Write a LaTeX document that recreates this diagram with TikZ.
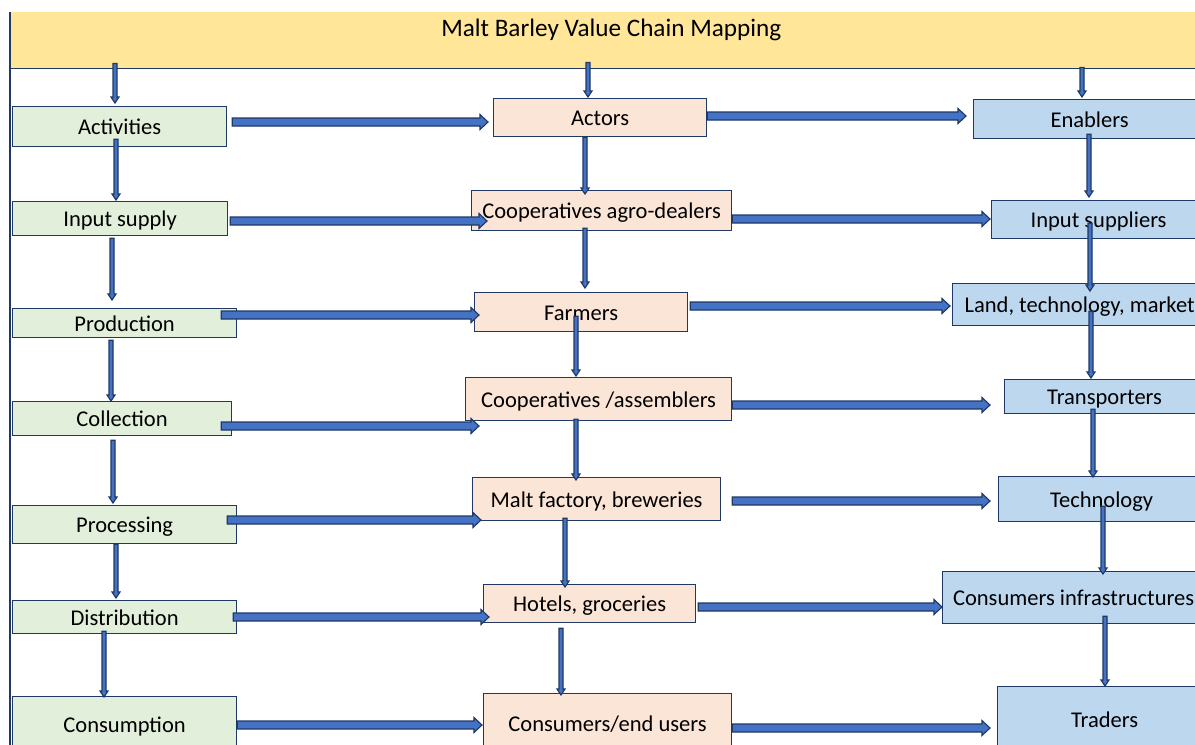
\documentclass[tikz,border=0pt]{standalone}
\usepackage{fontspec}
\setmainfont{Carlito}
\usetikzlibrary{calc}
\definecolor{titlefill}{HTML}{FFE699}
\definecolor{gfill}{HTML}{E2EFDA}
\definecolor{pfill}{HTML}{FBE5D6}
\definecolor{bfill}{HTML}{BDD7EE}
\definecolor{navy}{HTML}{1F3864}
\definecolor{arrfill}{HTML}{4472C4}
\tikzset{
  box/.style={draw=navy, line width=0.9pt, anchor=north west, inner sep=0pt,
    text height=12pt, text depth=0pt,
    font=\fontsize{16.9}{20}\selectfont},
  gbox/.style={box, fill=gfill},
  pbox/.style={box, fill=pfill},
  bbox/.style={box, fill=bfill},
  barrow/.style={draw=navy, fill=arrfill, line width=0.85pt, line join=miter},
  frameline/.style={draw=navy, line width=0.9pt}
}
\newcommand\bx[7]{\node[#2, minimum width={(#5-#3)*0.75pt}, minimum height={(#6-#4)*0.75pt}] (#1) at (#3,#4) {#7};}
\newcommand\harr[5]{\draw[barrow] let \p1=($(#1.east)+(#3,0)$), \p2=($(#2.west)+(#4,0)$), \p3=(0,#5) in
  (\x1,\y3+3pt) -- (\x2-6pt,\y3+3pt) -- (\x2-6pt,\y3+5.6pt) -- (\x2,\y3) -- (\x2-6pt,\y3-5.6pt) -- (\x2-6pt,\y3-3pt) -- (\x1,\y3-3pt) -- cycle;}
\newcommand\varr[5]{\draw[barrow] let \p1=($(#1.south)+(0,#4)$), \p2=($(#2.north)+(0,#5)$), \p3=(#3,0) in
  (\x3-1.5pt,\y1) -- (\x3-1.5pt,\y2+4.5pt) -- (\x3-3pt,\y2+4.5pt) -- (\x3,\y2) -- (\x3+3pt,\y2+4.5pt) -- (\x3+1.5pt,\y2+4.5pt) -- (\x3+1.5pt,\y1) -- cycle;}
\begin{document}
\begin{tikzpicture}[x=0.75pt,y=-0.75pt]
\useasboundingbox (0,0) rectangle (1195,744);
\clip (0,0) rectangle (1195,744);
% title band
\node[fill=titlefill, anchor=north west, inner sep=0pt, minimum width={1202*0.75pt}, minimum height={56*0.75pt}] (title) at (10,12) {};
\node[font=\fontsize{18.9}{22}\selectfont, inner sep=0pt] (titletext) at ($(title.north)+(0,18)$) {Malt Barley Value Chain Mapping};
\draw[frameline] (title.south west) -- (title.south east);
\coordinate (leftend) at (10,750);
\draw[frameline] (title.north west) -- (leftend);
% left column
\bx{act}{gbox}{12}{106}{226}{146}{Activities}
\bx{inp}{gbox}{12}{201}{227}{235}{Input supply}
\bx{prod}{gbox}{12}{308}{236}{337}{Production}
\bx{coll}{gbox}{12}{401}{231}{435}{Collection}
\bx{proc}{gbox}{12}{505}{236}{543}{Processing}
\bx{dist}{gbox}{12}{600}{236}{633}{Distribution}
\bx{cons}{gbox}{12}{696}{236}{752}{Consumption}
% middle column
\bx{actors}{pbox}{493}{98}{706}{136}{Actors}
\bx{coop}{pbox}{471}{190}{731}{230}{Cooperatives agro-dealers}
\bx{farm}{pbox}{474}{292}{687}{331}{Farmers}
\bx{assem}{pbox}{465}{377}{731}{420}{Cooperatives /assemblers}
\bx{malt}{pbox}{472}{477}{720}{520}{Malt factory, breweries}
\bx{hotel}{pbox}{483}{584}{695}{622}{Hotels, groceries}
\bx{endu}{pbox}{483}{693}{731}{753}{Consumers/end users}
% right column
\bx{enab}{bbox}{973}{99}{1205}{138}{Enablers}
\bx{isup}{bbox}{991}{200}{1205}{238}{Input suppliers}
\bx{land}{bbox}{952}{283}{1206}{325}{Land, technology, market}
\bx{trans}{bbox}{1004}{379}{1204}{413}{Transporters}
\bx{tech}{bbox}{998}{476}{1204}{521}{Technology}
\bx{cinf}{bbox}{942}{571}{1204}{623}{Consumers infrastructures}
\bx{trad}{bbox}{997}{686}{1211}{752}{Traders}
% horizontal arrows left -> middle
\harr{act}{actors}{5}{-5}{122}
\harr{inp}{coop}{2}{16}{221}
\harr{prod}{farm}{-16}{5}{315}
\harr{coll}{assem}{-11}{14}{426}
\harr{proc}{malt}{-10}{9}{520}
\harr{dist}{hotel}{-4}{6}{617}
\harr{cons}{endu}{0}{-1}{725}
% horizontal arrows middle -> right
\harr{actors}{enab}{0}{-7}{116}
\harr{coop}{isup}{0}{-1}{219}
\harr{farm}{land}{2}{-2}{306}
\harr{assem}{trans}{0}{-14}{405}
\harr{malt}{tech}{11}{-8}{501}
\harr{hotel}{cinf}{2}{0}{607}
\harr{endu}{trad}{0}{-7}{728}
% vertical arrows from title
\varr{title}{act}{115}{-5}{-3}
\varr{title}{actors}{588}{-6}{-1}
\varr{title}{enab}{1082}{-1}{-2}
% left column vertical
\varr{act}{inp}{116}{-8}{-1}
\varr{inp}{prod}{112}{2}{-8}
\varr{prod}{coll}{111}{2}{0}
\varr{coll}{proc}{113}{4}{-2}
\varr{proc}{dist}{116}{0}{-2}
\varr{dist}{cons}{104}{-3}{1}
% middle column vertical
\varr{actors}{coop}{585}{0}{4}
\varr{coop}{farm}{585}{-3}{-4}
\varr{farm}{assem}{576}{-16}{-1}
\varr{assem}{malt}{576}{-2}{3}
\varr{malt}{hotel}{565}{-3}{3}
\varr{hotel}{endu}{561}{5}{2}
% right column vertical
\varr{enab}{isup}{1089}{-5}{-3}
\varr{isup}{land}{1090}{-16}{8}
\varr{land}{trans}{1091}{-15}{-1}
\varr{trans}{tech}{1093}{-5}{1}
\varr{tech}{cinf}{1103}{-16}{3}
\varr{cinf}{trad}{1105}{-8}{0}
\end{tikzpicture}
\end{document}
